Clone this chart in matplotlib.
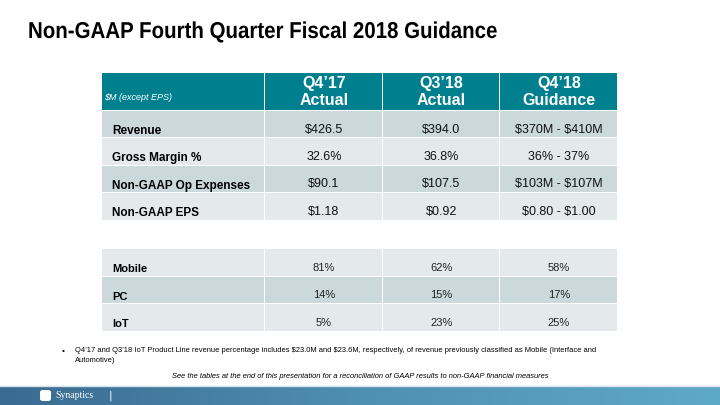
import matplotlib.pyplot as plt
import matplotlib.patches as patches
from matplotlib.textpath import TextPath
from matplotlib.font_manager import FontProperties
from matplotlib.transforms import Affine2D
from matplotlib.colors import LinearSegmentedColormap
import numpy as np

plt.rcParams['text.parse_math'] = False

# table data
col_heads = ["Q4\u201917\nActual", "Q3\u201918\nActual", "Q4\u201918\nGuidance"]
fin_rows = ["Revenue", "Gross Margin %", "Non-GAAP Op Expenses", "Non-GAAP EPS"]
fin_vals = [
    ["$426.5", "$394.0", "$370M - $410M"],
    ["32.6%", "36.8%", "36% - 37%"],
    ["$90.1", "$107.5", "$103M - $107M"],
    ["$1.18", "$0.92", "$0.80 - $1.00"],
]
mix_rows = ["Mobile", "PC", "IoT"]
mix_vals = [
    ["81%", "62%", "58%"],
    ["14%", "15%", "17%"],
    ["5%", "23%", "25%"],
]

TEAL = "#00808f"
DARK = "#cbd8dc"
LIGHT = "#e4eaec"
SANS = ["Liberation Sans", "DejaVu Sans"]

fig = plt.figure(figsize=(7.2, 4.05), dpi=100)
ax = fig.add_axes([0, 0, 1, 1])
ax.set_xlim(0, 720)
ax.set_ylim(405, 0)
ax.axis("off")

# title, squeezed horizontally to look like a narrow font
tp = TextPath((0, 0), "Non-GAAP Fourth Quarter Fiscal 2018 Guidance",
              size=23, prop=FontProperties(family="Liberation Sans", weight="bold"))
tp = tp.transformed(Affine2D().scale(0.89, -1).translate(28, 38))
ax.add_patch(patches.PathPatch(tp, facecolor="black", edgecolor="none"))

# column edges
xs = [102, 265, 383, 500, 618]
gap = 1.5

def cell(x0, x1, y0, y1, color):
    ax.add_patch(patches.Rectangle((x0, y0), x1 - x0 - gap, y1 - y0 - gap,
                                   facecolor=color, edgecolor="none"))

# header
hy0, hy1 = 73, 111
for i in range(4):
    cell(xs[i], xs[i + 1], hy0, hy1, TEAL)
ax.text(104, 98, "$M (except EPS)", fontsize=6.5, style="italic", color="white",
        family=SANS, va="center")
for i, h in enumerate(col_heads):
    cx = (xs[i + 1] + xs[i + 2]) / 2
    ax.text(cx, 92, h, fontsize=11.5, fontweight="bold", color="white",
            family=SANS, ha="center", va="center", linespacing=1.15)

# financial rows
fin_edges = [111, 138, 166, 193, 221]
for r, name in enumerate(fin_rows):
    y0, y1 = fin_edges[r], fin_edges[r + 1]
    color = DARK if r % 2 == 0 else LIGHT
    for i in range(4):
        cell(xs[i], xs[i + 1], y0, y1, color)
    ym = (y0 + y1) / 2 + 6
    ax.text(112, ym, name, fontsize=8.5, fontweight="bold", family=SANS, va="center")
    for i, v in enumerate(fin_vals[r]):
        ax.text((xs[i + 1] + xs[i + 2]) / 2, ym - 1, v, fontsize=9, family=SANS,
                ha="center", va="center", color="#111111")

# product mix rows
mix_edges = [249, 277, 304, 332]
for r, name in enumerate(mix_rows):
    y0, y1 = mix_edges[r], mix_edges[r + 1]
    color = LIGHT if r % 2 == 0 else DARK
    for i in range(4):
        cell(xs[i], xs[i + 1], y0, y1, color)
    ym = (y0 + y1) / 2 + 6
    ax.text(112, ym, name, fontsize=8, fontweight="bold", family=SANS, va="center")
    for i, v in enumerate(mix_vals[r]):
        ax.text((xs[i + 1] + xs[i + 2]) / 2, ym - 1, v, fontsize=8, family=SANS,
                ha="center", va="center", color="#222222")

# footnotes
ax.text(62, 351, "\u2022", fontsize=6, va="center", family=SANS)
ax.text(75, 351, "Q4\u201917 and Q3\u201918 IoT Product Line revenue percentage includes "
        "$23.0M and $23.6M, respectively, of revenue previously classified as Mobile "
        "(Interface and", fontsize=5.4, family=SANS, va="center")
ax.text(75, 361, "Automotive)", fontsize=5.4, family=SANS, va="center")
ax.text(360, 376, "See the tables at the end of this presentation for a reconciliation "
        "of GAAP results to non-GAAP financial measures", fontsize=5.4, style="italic",
        family=SANS, ha="center", va="center")

# footer bar with gradient
grad = np.linspace(0, 1, 256).reshape(1, -1)
cmap = LinearSegmentedColormap.from_list("bar", ["#3a6b90", "#4f8fb2", "#5fa9c8"])
ax.imshow(grad, extent=(0, 720, 405, 386), aspect="auto", cmap=cmap, zorder=1)
ax.plot([0, 720], [385.5, 385.5], color="#d6e2ea", lw=1)
ax.set_xlim(0, 720)
ax.set_ylim(405, 0)
ax.add_patch(patches.FancyBboxPatch((40, 390), 11, 11, boxstyle="round,pad=0,rounding_size=2.5",
                                    facecolor="white", edgecolor="none", zorder=3))
ax.text(55, 396, "Synaptics", fontsize=7, color="white", family="Liberation Serif",
        va="center", zorder=3)
ax.text(109, 396, "|", fontsize=8, color="white", va="center", zorder=3)

fig.savefig("out.png", dpi=100)
